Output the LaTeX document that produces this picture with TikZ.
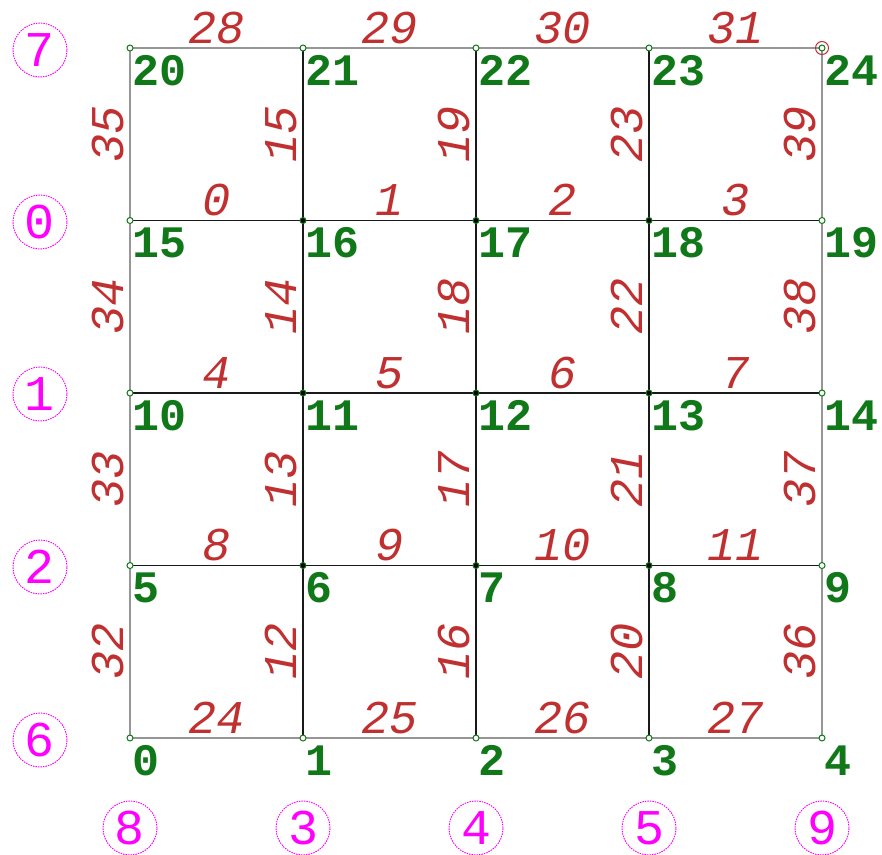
\documentclass[tikz,border=0pt]{standalone}
\usepackage{fontspec}
\setmainfont{Liberation Mono}
\definecolor{elab}{RGB}{192,48,48}
\definecolor{nlab}{RGB}{16,120,24}
\definecolor{mag}{RGB}{255,0,255}
\definecolor{bgray}{RGB}{150,150,150}
\tikzset{
  inner/.style={draw=black!90, line width=1.6pt},
  outer/.style={draw=bgray, line width=1.6pt},
  hlab/.style={anchor=base, inner sep=0pt, text=elab, font=\fontsize{47}{47}\selectfont\itshape},
  vlab/.style={anchor=base, inner sep=0pt, rotate=90, text=elab, font=\fontsize{47}{47}\selectfont\itshape},
  nlabel/.style={anchor=base west, inner sep=0pt, text=nlab, font=\fontsize{45}{45}\selectfont\bfseries},
  circnum/.style={circle, draw=mag, dashed, dash pattern=on 1.5pt off 1pt, line width=0.9pt, minimum size=54pt, inner sep=0pt, text=mag, font=\fontsize{50}{50}\selectfont},
  bdot/.style={circle, draw=nlab, fill=white, line width=1pt, minimum size=6pt, inner sep=0pt},
  idot/.style={circle, draw=nlab, fill=black, line width=1pt, minimum size=6pt, inner sep=0pt},
}
\begin{document}
\begin{tikzpicture}[x=1pt,y=-1pt]
\useasboundingbox (0,0) rectangle (882,854);
% grid points
\foreach \r in {0,...,4}{
  \foreach \c in {0,...,4}{
    \pgfmathtruncatemacro\id{5*\r+\c}
    \coordinate (n\id) at ({130+173*\c},{738-172.5*\r});
  }
}
% horizontal edges: from/to/label/style
\foreach \a/\b/\l/\s in {0/1/24/outer,1/2/25/outer,2/3/26/outer,3/4/27/outer,
  5/6/8/inner,6/7/9/inner,7/8/10/inner,8/9/11/inner,
  10/11/4/inner,11/12/5/inner,12/13/6/inner,13/14/7/inner,
  15/16/0/inner,16/17/1/inner,17/18/2/inner,18/19/3/inner,
  20/21/28/outer,21/22/29/outer,22/23/30/outer,23/24/31/outer}{
  \draw[\s] (n\a) -- (n\b);
  \path (n\a) -- (n\b) coordinate[midway] (h\l);
  \node[hlab] (el\l) at ([yshift=5pt]h\l) {\l};
}
% vertical edges
\foreach \a/\b/\l/\s in {0/5/32/outer,5/10/33/outer,10/15/34/outer,15/20/35/outer,
  1/6/12/inner,6/11/13/inner,11/16/14/inner,16/21/15/inner,
  2/7/16/inner,7/12/17/inner,12/17/18/inner,17/22/19/inner,
  3/8/20/inner,8/13/21/inner,13/18/22/inner,18/23/23/inner,
  4/9/36/outer,9/14/37/outer,14/19/38/outer,19/24/39/outer}{
  \draw[\s] (n\a) -- (n\b);
  \path (n\a) -- (n\b) coordinate[midway] (v\l);
  \node[vlab] (el\l) at ([xshift=-7pt]v\l) {\l};
}
% dots and node labels
\foreach \id/\st in {0/bdot,1/bdot,2/bdot,3/bdot,4/bdot,
  5/bdot,6/idot,7/idot,8/idot,9/bdot,
  10/bdot,11/idot,12/idot,13/idot,14/bdot,
  15/bdot,16/idot,17/idot,18/idot,19/bdot,
  20/bdot,21/bdot,22/bdot,23/bdot,24/bdot}{
  \node[\st] (d\id) at (n\id) {};
  \node[nlabel] (nl\id) at ([xshift=2pt,yshift=-37pt]n\id) {\id};
}
\node[circle, draw=elab, line width=1pt, minimum size=13pt, inner sep=0pt] (sel) at (n24) {};
% circled numbers
\node[circnum] (c7) at (40,50) {7};
\node[circnum] (c0) at (40,222) {0};
\node[circnum] (c1) at (40,394) {1};
\node[circnum] (c2) at (40,567) {2};
\node[circnum] (c6) at (40,740) {6};
\node[circnum] (c8) at (130,828) {8};
\node[circnum] (c3) at (303,828) {3};
\node[circnum] (c4) at (476,828) {4};
\node[circnum] (c5) at (649,828) {5};
\node[circnum] (c9) at (822,828) {9};
\end{tikzpicture}
\end{document}
